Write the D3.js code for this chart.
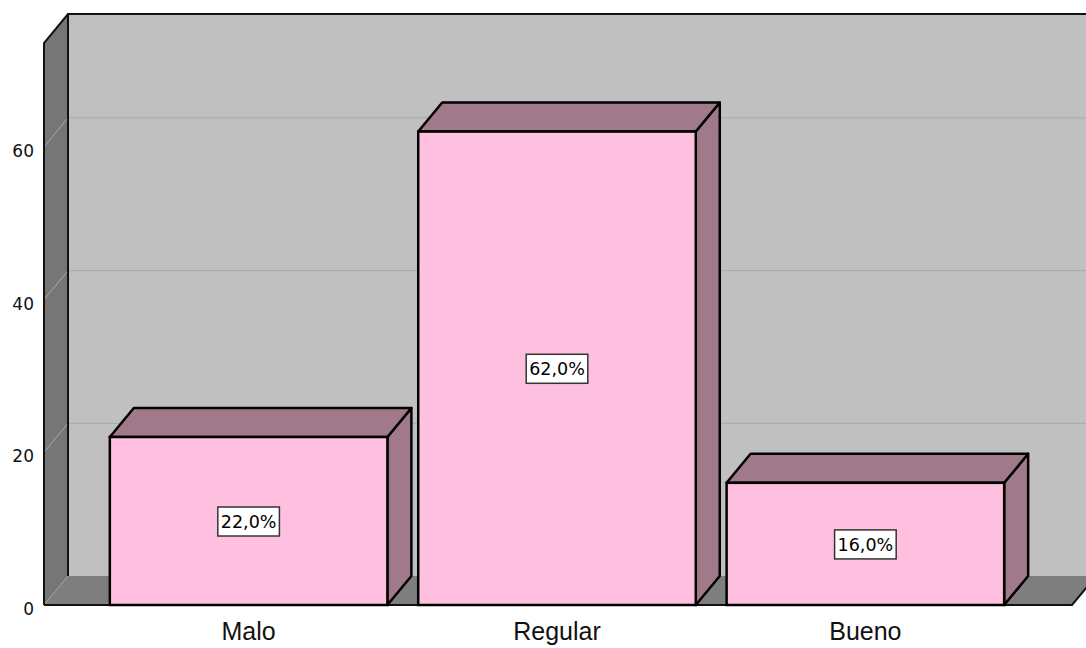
<!DOCTYPE html>
<html>
<head>
<meta charset="utf-8">
<script src="https://cdn.jsdelivr.net/npm/d3@7/dist/d3.min.js"></script>
<style>
  html, body { margin: 0; padding: 0; background: #ffffff; }
  svg { display: block; }
</style>
</head>
<body>
<svg id="chart" width="1086" height="648"></svg>
<script>
// Categories and their percentages
const categories = ["Malo", "Regular", "Bueno"];
const percentages = [22.0, 62.0, 16.0];
const tickValues = [0, 20, 40, 60];

const W = 1086, H = 648;
const svg = d3.select("#chart");

// 3D depth offset of the chart box and bars
const depthX = 24, depthY = -29;

// Front-plane scales
const y = d3.scaleLinear().domain([0, 73.6]).range([605, 43]);
const x = d3.scaleBand().domain(categories).range([79, 1035])
  .paddingInner(0.1).paddingOuter(0.1);

const frontLeft = 44, frontRight = 1072;
const y0 = y(0), yTop = y.range()[1];

const line = d3.line();

// Back wall
svg.append("path")
  .attr("d", line([[frontLeft + depthX, yTop + depthY], [frontRight + depthX, yTop + depthY],
                   [frontRight + depthX, y0 + depthY], [frontLeft + depthX, y0 + depthY]]) + "Z")
  .attr("fill", "#c0c0c0");

// Left wall
svg.append("path")
  .attr("d", line([[frontLeft, yTop], [frontLeft + depthX, yTop + depthY],
                   [frontLeft + depthX, y0 + depthY], [frontLeft, y0]]) + "Z")
  .attr("fill", "#767676");

// Floor
svg.append("path")
  .attr("d", line([[frontLeft, y0], [frontLeft + depthX, y0 + depthY],
                   [frontRight + depthX, y0 + depthY], [frontRight, y0]]) + "Z")
  .attr("fill", "#7e7e7e");

// Gridlines on back wall and left wall
const grid = svg.append("g");
tickValues.forEach(v => {
  const gy = y(v);
  if (v > 0) {
    grid.append("line")
      .attr("x1", frontLeft + depthX).attr("x2", frontRight + depthX)
      .attr("y1", gy + depthY).attr("y2", gy + depthY)
      .attr("stroke", "#acacac").attr("stroke-width", 1.2);
  }
  grid.append("line")
    .attr("x1", frontLeft).attr("y1", gy)
    .attr("x2", frontLeft + depthX).attr("y2", gy + depthY)
    .attr("stroke", "#a8a8a8").attr("stroke-width", 1)
    .attr("stroke-dasharray", v === 0 ? "2,1" : null);
});

// Box edges
const edges = svg.append("g").attr("stroke", "#111").attr("fill", "none");
edges.append("path").attr("stroke-width", 2)
  .attr("d", line([[frontLeft, y0], [frontLeft, yTop], [frontLeft + depthX, yTop + depthY], [W + 20, yTop + depthY]]));
edges.append("path").attr("stroke-width", 2)
  .attr("d", line([[frontLeft + depthX, yTop + depthY], [frontLeft + depthX, y0 + depthY]]));
edges.append("path").attr("stroke-width", 2)
  .attr("d", line([[frontLeft, y0], [frontRight, y0], [frontRight + depthX, y0 + depthY]]));

// Bars as 3D boxes
const bars = svg.append("g").selectAll("g").data(categories).join("g");
bars.each(function(c, i) {
  const g = d3.select(this);
  const x0 = x(c), x1 = x(c) + x.bandwidth();
  const yt = y(percentages[i]);
  // side face
  g.append("path")
    .attr("d", line([[x1, yt], [x1 + depthX, yt + depthY], [x1 + depthX, y0 + depthY], [x1, y0]]) + "Z")
    .attr("fill", "#a07a8a").attr("stroke", "#000").attr("stroke-width", 2.5).attr("stroke-linejoin", "round");
  // top face
  g.append("path")
    .attr("d", line([[x0, yt], [x0 + depthX, yt + depthY], [x1 + depthX, yt + depthY], [x1, yt]]) + "Z")
    .attr("fill", "#a07a8a").attr("stroke", "#000").attr("stroke-width", 2.5).attr("stroke-linejoin", "round");
  // front face
  g.append("rect")
    .attr("x", x0).attr("y", yt).attr("width", x1 - x0).attr("height", y0 - yt)
    .attr("fill", "#ffc0e0").attr("stroke", "#000").attr("stroke-width", 2.5);

  // value label
  const cx = (x0 + x1) / 2, cy = (yt + y0) / 2;
  const txt = percentages[i].toFixed(1).replace(".", ",") + "%";
  const t = g.append("text")
    .attr("x", cx).attr("y", cy + 1)
    .attr("text-anchor", "middle").attr("dominant-baseline", "central")
    .attr("font-family", "DejaVu Sans, sans-serif").attr("font-size", 17.5)
    .attr("fill", "#000").text(txt);
  const bb = t.node().getBBox();
  g.insert("rect", "text")
    .attr("x", cx - bb.width / 2 - 3).attr("y", cy - 14)
    .attr("width", bb.width + 6).attr("height", 29)
    .attr("fill", "#fff").attr("stroke", "#333").attr("stroke-width", 1.5);
});

// Y tick labels
svg.append("g").selectAll("text").data(tickValues).join("text")
  .attr("x", 34).attr("y", d => y(d) + 4)
  .attr("text-anchor", "end").attr("dominant-baseline", "central")
  .attr("font-family", "DejaVu Sans, sans-serif").attr("font-size", 17)
  .attr("fill", "#111").text(d => d);

// Category labels
svg.append("g").selectAll("text").data(categories).join("text")
  .attr("x", d => x(d) + x.bandwidth() / 2).attr("y", 640)
  .attr("text-anchor", "middle")
  .attr("font-family", "Liberation Sans, Arial, sans-serif").attr("font-size", 25)
  .attr("fill", "#111").text(d => d);
</script>
</body>
</html>
